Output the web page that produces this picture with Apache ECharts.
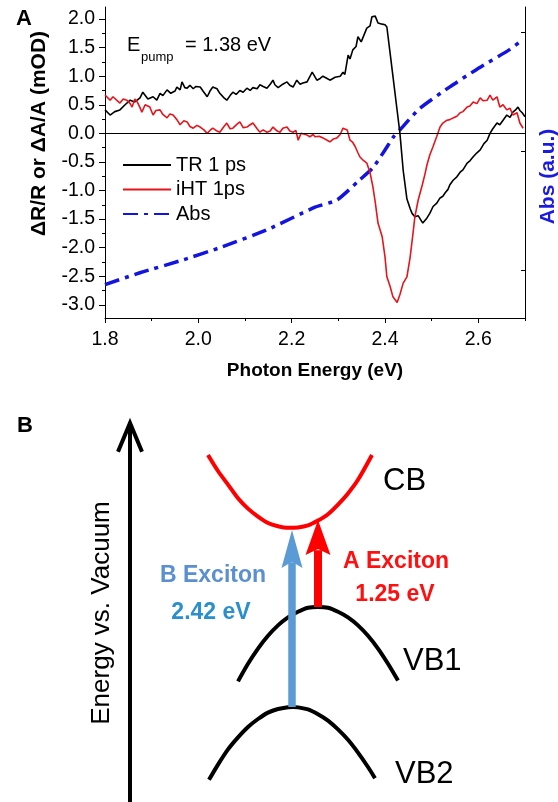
<!DOCTYPE html>
<html><head><meta charset="utf-8">
<script src="https://cdn.jsdelivr.net/npm/echarts@6/dist/echarts.min.js"></script>
<style>html,body{margin:0;padding:0;background:#fff}#c{width:558px;height:802px}</style>
</head><body><div id="c"></div>
<script>
// ---------- Panel A data ----------
const trEnergy = [1.800,1.811,1.821,1.832,1.843,1.854,1.864,1.875,1.881,1.892,1.903,1.911,1.918,1.924,1.933,1.941,1.950,1.954,1.961,1.965,1.971,1.976,1.982,1.989,1.995,2.004,2.010,2.019,2.025,2.031,2.040,2.046,2.055,2.061,2.068,2.074,2.081,2.089,2.096,2.104,2.111,2.117,2.126,2.132,2.139,2.147,2.154,2.160,2.164,2.171,2.175,2.181,2.190,2.196,2.203,2.211,2.218,2.224,2.233,2.244,2.254,2.261,2.267,2.276,2.282,2.293,2.304,2.310,2.314,2.321,2.325,2.331,2.338,2.342,2.349,2.353,2.361,2.368,2.372,2.379,2.385,2.394,2.400,2.404,2.411,2.417,2.426,2.432,2.439,2.447,2.454,2.458,2.464,2.471,2.475,2.481,2.490,2.496,2.503,2.511,2.518,2.524,2.529,2.535,2.539,2.546,2.554,2.561,2.567,2.576,2.582,2.589,2.597,2.604,2.612,2.619,2.625,2.631,2.640,2.646,2.653,2.661,2.668,2.674,2.681,2.685,2.689,2.694,2.700];
const trSignal = [0.41,0.32,0.38,0.41,0.50,0.58,0.55,0.62,0.72,0.60,0.64,0.58,0.70,0.66,0.76,0.70,0.74,0.81,0.76,0.90,0.80,0.79,0.84,0.78,0.82,0.81,0.74,0.64,0.74,0.81,0.78,0.70,0.62,0.58,0.66,0.72,0.68,0.75,0.72,0.79,0.75,0.80,0.78,0.85,0.82,0.79,0.86,0.93,0.85,0.80,0.79,0.86,0.90,0.84,0.81,0.93,0.86,0.88,0.90,1.07,0.93,0.96,1.00,0.96,0.93,0.98,1.00,1.07,1.03,1.37,1.30,1.46,1.52,1.69,1.60,1.63,1.84,1.88,2.04,2.05,1.93,1.91,1.90,1.86,1.40,1.00,0.40,0.00,-0.65,-1.15,-1.32,-1.40,-1.46,-1.44,-1.43,-1.57,-1.48,-1.40,-1.28,-1.22,-1.13,-1.10,-1.04,-0.98,-0.90,-0.82,-0.76,-0.68,-0.64,-0.52,-0.48,-0.41,-0.34,-0.29,-0.18,-0.12,0.00,0.08,0.18,0.15,0.23,0.32,0.28,0.37,0.42,0.46,0.40,0.36,0.29];

const ihtEnergy = [1.800,1.811,1.817,1.821,1.832,1.839,1.847,1.854,1.858,1.864,1.869,1.875,1.879,1.886,1.890,1.896,1.903,1.909,1.918,1.924,1.933,1.939,1.946,1.954,1.961,1.969,1.976,1.982,1.989,1.997,2.004,2.012,2.019,2.025,2.031,2.040,2.046,2.055,2.061,2.068,2.074,2.083,2.089,2.096,2.104,2.111,2.117,2.126,2.132,2.139,2.147,2.154,2.160,2.169,2.175,2.181,2.190,2.196,2.203,2.209,2.214,2.220,2.224,2.233,2.239,2.246,2.250,2.259,2.267,2.276,2.282,2.289,2.297,2.304,2.310,2.319,2.325,2.331,2.336,2.342,2.346,2.353,2.361,2.368,2.374,2.379,2.385,2.394,2.400,2.404,2.411,2.417,2.421,2.426,2.432,2.439,2.447,2.454,2.460,2.464,2.471,2.480,2.486,2.490,2.496,2.503,2.511,2.518,2.524,2.533,2.539,2.546,2.554,2.561,2.567,2.576,2.582,2.589,2.597,2.604,2.610,2.619,2.625,2.631,2.640,2.646,2.653,2.661,2.668,2.674,2.683,2.689,2.696];
const ihtSignal = [0.67,0.58,0.64,0.62,0.53,0.60,0.58,0.52,0.46,0.60,0.55,0.45,0.37,0.50,0.53,0.46,0.32,0.40,0.41,0.33,0.27,0.34,0.32,0.24,0.15,0.22,0.20,0.12,0.09,0.14,0.11,0.06,0.00,0.05,0.09,0.04,0.02,0.12,0.18,0.08,0.09,0.16,0.20,0.10,0.11,0.15,0.18,0.08,0.02,0.06,0.02,0.04,0.11,0.04,0.02,0.09,0.11,0.04,0.02,0.05,-0.12,0.00,0.02,-0.03,-0.06,-0.02,-0.06,-0.05,-0.08,-0.12,-0.15,-0.10,-0.08,-0.02,0.09,0.06,-0.12,-0.16,-0.23,-0.34,-0.41,-0.47,-0.52,-0.69,-0.93,-1.20,-1.57,-1.81,-2.16,-2.51,-2.68,-2.86,-2.88,-2.96,-2.82,-2.62,-2.51,-2.16,-1.75,-1.46,-1.17,-0.90,-0.70,-0.55,-0.38,-0.23,-0.05,0.11,0.18,0.23,0.24,0.27,0.30,0.36,0.38,0.46,0.48,0.55,0.52,0.62,0.57,0.58,0.67,0.58,0.64,0.46,0.50,0.41,0.44,0.32,0.36,0.18,0.09];

const absEnergy = [1.800,1.875,1.961,2.046,2.147,2.250,2.297,2.346,2.374,2.400,2.420,2.432,2.475,2.539,2.594,2.666,2.690];
const absValue  = [0.88,0.98,1.08,1.19,1.34,1.53,1.59,1.76,1.86,2.01,2.13,2.18,2.36,2.54,2.68,2.85,2.92];

const xTickLabels = [1.8, 2.0, 2.2, 2.4, 2.6];
const xMinorTicks = [1.9, 2.1, 2.3, 2.5, 2.7];
const yTickLabels = [-3.0, -2.5, -2.0, -1.5, -1.0, -0.5, 0.0, 0.5, 1.0, 1.5, 2.0];
const yMinorTicks = [-2.75, -2.25, -1.75, -1.25, -0.75, -0.25, 0.25, 0.75, 1.25, 1.75];
const absTicks = [1, 2, 3];

// ---------- Panel B data (schematic band diagram, k vs energy) ----------
const cbK  = [-0.85,-0.75,-0.65,-0.55,-0.45,-0.35,-0.25,-0.15,-0.05,0.05,0.15,0.25,0.35,0.45,0.55,0.65,0.79];
const cbE  = [3.15,2.95,2.78,2.61,2.48,2.38,2.30,2.26,2.24,2.245,2.27,2.33,2.41,2.53,2.67,2.84,3.15];
const vb1K = [-0.55,-0.45,-0.35,-0.25,-0.15,-0.05,0.05,0.15,0.25,0.35,0.45,0.55,0.65,0.75,0.85,0.95,1.05];
const vb1E = [0.32,0.54,0.73,0.89,1.02,1.12,1.19,1.24,1.25,1.24,1.19,1.12,1.02,0.89,0.73,0.54,0.33];
const vb2K = [-0.84,-0.75,-0.65,-0.55,-0.45,-0.35,-0.25,-0.15,-0.05,0,0.05,0.15,0.25,0.35,0.45,0.55,0.65,0.75,0.82];
const vb2E = [-0.91,-0.72,-0.53,-0.38,-0.25,-0.15,-0.07,-0.025,-0.003,0,-0.005,-0.03,-0.09,-0.17,-0.28,-0.41,-0.57,-0.75,-0.89];
const energyAxisK = [-1.63, -1.63];
const energyAxisE = [-1.19, 3.53];
const energyHeadK = [-1.75, -1.63, -1.51];
const energyHeadE = [3.19, 3.55, 3.19];
const bShaftK = [-0.01, -0.01];
const bShaftE = [0, 1.81];
const bHead = [-0.01, 1.975];
const aShaftK = [0.25, 0.25];
const aShaftE = [1.25, 1.96];
const aHead = [0.25, 2.12];

const zip = (a, b) => a.map((v, i) => [v, b[i]]);
const FONT = 'Liberation Sans, Arial, sans-serif';
const arrowPath = 'path://M10,0 L20,30 L10,25 L0,30 Z';

const chart = echarts.init(document.getElementById('c'), null, {renderer: 'canvas'});
const fmt = v => Number(v).toFixed(1);

chart.setOption({
  animation: false,
  backgroundColor: '#fff',
  textStyle: {fontFamily: FONT},
  grid: [
    {left: 105, top: 7, width: 420, height: 311, containLabel: false, outerBoundsMode: 'none'},
    {left: 93, top: 387, width: 400, height: 420, containLabel: false, outerBoundsMode: 'none'}
  ],
  legend: {
    data: ['TR 1 ps', 'iHT 1ps', 'Abs'],
    orient: 'vertical', left: 117, top: 150,
    itemWidth: 48, itemHeight: 14, itemGap: 4.5,
    itemStyle: {opacity: 0},
    textStyle: {fontSize: 20, color: '#000', lineHeight: 20, fontFamily: FONT},
    selectedMode: false
  },
  xAxis: [
    {type: 'value', gridIndex: 0, min: 1.8, max: 2.7,
      axisLine: {onZero: false, lineStyle: {color: '#000', width: 1}},
      axisTick: {customValues: xTickLabels, length: 5, lineStyle: {color: '#000'}},
      axisLabel: {customValues: xTickLabels, formatter: fmt, margin: 12, fontSize: 19.5, color: '#000'},
      splitLine: {show: false},
      name: 'Photon Energy (eV)', nameLocation: 'middle', nameGap: 43,
      nameTextStyle: {fontWeight: 'bold', fontSize: 19, color: '#000'}},
    {type: 'value', gridIndex: 0, min: 1.8, max: 2.7, position: 'bottom',
      axisLine: {show: false, onZero: false},
      axisTick: {customValues: xMinorTicks, length: 3, lineStyle: {color: '#000'}},
      axisLabel: {show: false}, splitLine: {show: false}},
    {type: 'value', gridIndex: 1, min: -2, max: 2, show: false}
  ],
  yAxis: [
    {type: 'value', gridIndex: 0, position: 'left', min: -3.23, max: 2.21,
      axisLine: {show: true, onZero: false, lineStyle: {color: '#000', width: 1}},
      axisTick: {customValues: yTickLabels, length: 6, lineStyle: {color: '#000'}},
      axisLabel: {customValues: yTickLabels, formatter: fmt, margin: 10, fontSize: 19.5, color: '#000'},
      splitLine: {show: false},
      name: 'ΔR/R or ΔA/A (mOD)', nameLocation: 'middle', nameGap: 55, nameRotate: 90,
      nameTextStyle: {fontWeight: 'bold', fontSize: 21, color: '#000', padding: [0, 0, 0, 58]}},
    {type: 'value', gridIndex: 0, position: 'right', min: 0.6, max: 3.21,
      axisLine: {show: true, onZero: false, lineStyle: {color: '#000', width: 1}},
      axisTick: {customValues: absTicks, inside: true, length: 4, lineStyle: {color: '#000'}},
      axisLabel: {show: false}, splitLine: {show: false},
      name: 'Abs (a.u.)', nameLocation: 'middle', nameGap: 13, nameRotate: 90,
      nameTextStyle: {fontWeight: 'bold', fontSize: 21, color: '#1a1ae0', padding: [0, 28, 0, 0]}},
    {type: 'value', gridIndex: 0, position: 'left', min: -3.23, max: 2.21,
      axisLine: {show: false, onZero: false},
      axisTick: {customValues: yMinorTicks, length: 3, lineStyle: {color: '#000'}},
      axisLabel: {show: false}, splitLine: {show: false}},
    {type: 'value', gridIndex: 1, min: -1.25, max: 4, show: false}
  ],
  series: [
    {name: 'Abs', type: 'line', xAxisIndex: 0, yAxisIndex: 1, data: zip(absEnergy, absValue),
      symbol: 'none', smooth: 0.2, itemStyle: {color: '#1414e0'},
      lineStyle: {color: '#1414e0', width: 3.5, type: [15, 6, 4, 6]}},
    {name: 'TR 1 ps', type: 'line', xAxisIndex: 0, yAxisIndex: 0, data: zip(trEnergy, trSignal),
      symbol: 'none', itemStyle: {color: '#000'}, lineStyle: {color: '#000', width: 1.6},
      markLine: {silent: true, symbol: 'none', label: {show: false},
        lineStyle: {color: '#000', width: 1, type: 'solid'}, data: [{yAxis: 0}]}},
    {name: 'iHT 1ps', type: 'line', xAxisIndex: 0, yAxisIndex: 0, data: zip(ihtEnergy, ihtSignal),
      symbol: 'none', itemStyle: {color: '#e8141c'}, lineStyle: {color: '#e8141c', width: 1.6}},
    // Panel B
    {name: 'CB', type: 'line', xAxisIndex: 2, yAxisIndex: 3, data: zip(cbK, cbE), symbol: 'none', smooth: 0.3,
      lineStyle: {color: '#ff0000', width: 4}},
    {name: 'VB1', type: 'line', xAxisIndex: 2, yAxisIndex: 3, data: zip(vb1K, vb1E), symbol: 'none', smooth: 0.3,
      lineStyle: {color: '#000', width: 4}},
    {name: 'VB2', type: 'line', xAxisIndex: 2, yAxisIndex: 3, data: zip(vb2K, vb2E), symbol: 'none', smooth: 0.3,
      lineStyle: {color: '#000', width: 4}},
    {name: 'energyAxis', type: 'line', xAxisIndex: 2, yAxisIndex: 3, data: zip(energyAxisK, energyAxisE), symbol: 'none',
      lineStyle: {color: '#000', width: 4}, clip: false},
    {name: 'energyHead', type: 'line', xAxisIndex: 2, yAxisIndex: 3, data: zip(energyHeadK, energyHeadE), symbol: 'none',
      lineStyle: {color: '#000', width: 4, join: 'miter'}},
    {name: 'bShaft', type: 'line', xAxisIndex: 2, yAxisIndex: 3, data: zip(bShaftK, bShaftE), symbol: 'none',
      lineStyle: {color: '#5b9bd5', width: 7.5}},
    {name: 'aShaft', type: 'line', xAxisIndex: 2, yAxisIndex: 3, data: zip(aShaftK, aShaftE), symbol: 'none',
      lineStyle: {color: '#ff0000', width: 8}},
    {name: 'bHead', type: 'scatter', xAxisIndex: 2, yAxisIndex: 3, data: [bHead], symbol: arrowPath,
      symbolSize: [21, 38], itemStyle: {color: '#5b9bd5', opacity: 1}, silent: true},
    {name: 'aHead', type: 'scatter', xAxisIndex: 2, yAxisIndex: 3, data: [aHead], symbol: arrowPath,
      symbolSize: [25, 35], itemStyle: {color: '#ff0000', opacity: 1}, silent: true}
  ],
  graphic: [
    {type: 'text', x: 24, y: 19, style: {text: 'A', font: 'bold 22px ' + FONT, fill: '#000', align: 'center', verticalAlign: 'middle'}},
    {type: 'text', x: 127, y: 45, style: {text: 'E', font: '20px ' + FONT, fill: '#000', align: 'left', verticalAlign: 'middle'}},
    {type: 'text', x: 141, y: 57, style: {text: 'pump', font: '13px ' + FONT, fill: '#000', align: 'left', verticalAlign: 'middle'}},
    {type: 'text', x: 185, y: 45, style: {text: '= 1.38 eV', font: '20px ' + FONT, fill: '#000', align: 'left', verticalAlign: 'middle'}},
    {type: 'text', x: 25, y: 426, style: {text: 'B', font: 'bold 22px ' + FONT, fill: '#000', align: 'center', verticalAlign: 'middle'}},
    {type: 'text', x: 102, y: 613, rotation: Math.PI / 2, style: {text: 'Energy vs. Vacuum', font: '26px ' + FONT, fill: '#000', align: 'center', verticalAlign: 'middle'}},
    {type: 'text', x: 383, y: 481, style: {text: 'CB', font: '31px ' + FONT, fill: '#000', align: 'left', verticalAlign: 'middle'}},
    {type: 'text', x: 403, y: 661, style: {text: 'VB1', font: '31px ' + FONT, fill: '#000', align: 'left', verticalAlign: 'middle'}},
    {type: 'text', x: 395, y: 774, style: {text: 'VB2', font: '31px ' + FONT, fill: '#000', align: 'left', verticalAlign: 'middle'}},
    {type: 'text', x: 213, y: 576, style: {text: 'B Exciton', font: 'bold 23px ' + FONT, fill: '#5b8fd0', align: 'center', verticalAlign: 'middle'}},
    {type: 'text', x: 211, y: 613, style: {text: '2.42 eV', font: 'bold 23px ' + FONT, fill: '#2a8fcc', align: 'center', verticalAlign: 'middle'}},
    {type: 'text', x: 396, y: 562, style: {text: 'A Exciton', font: 'bold 23px ' + FONT, fill: '#ff1010', align: 'center', verticalAlign: 'middle'}},
    {type: 'text', x: 395, y: 595, style: {text: '1.25 eV', font: 'bold 23px ' + FONT, fill: '#ff1010', align: 'center', verticalAlign: 'middle'}}
  ]
});
</script></body></html>
